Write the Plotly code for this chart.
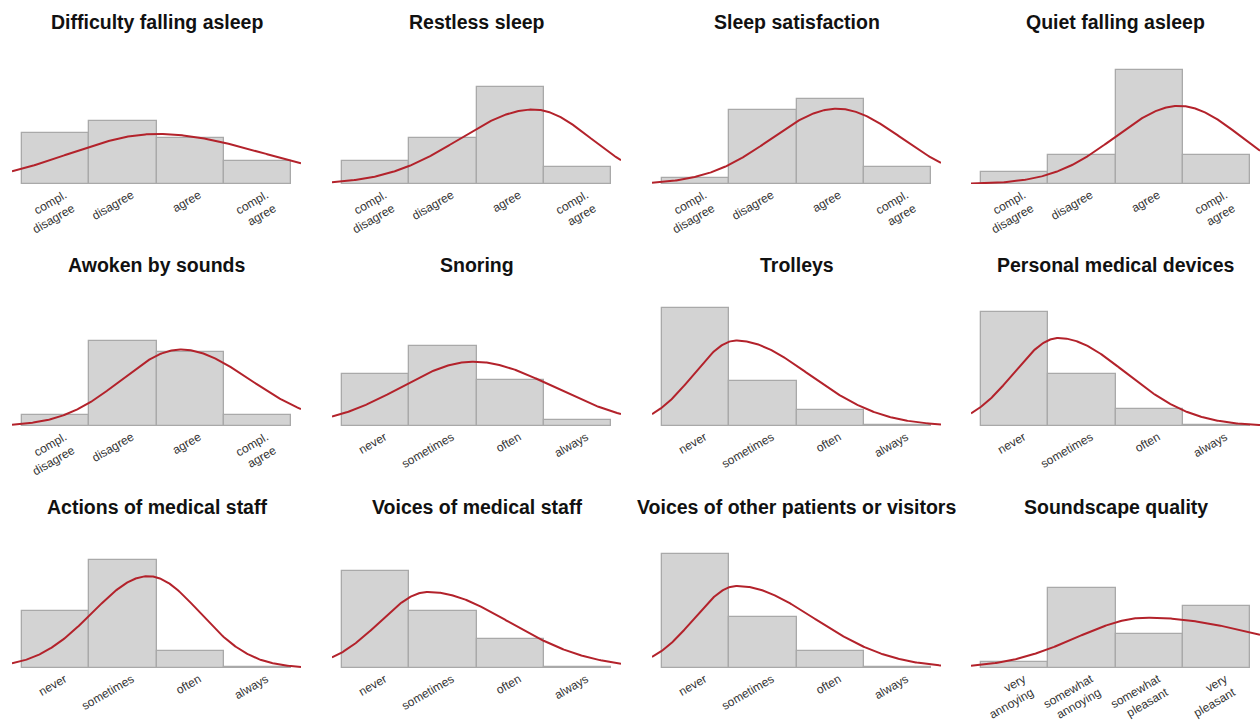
import numpy as np
import plotly.graph_objects as go

# Panel titles (row-major, 3 rows x 4 columns)
titles = [
    "Difficulty falling asleep", "Restless sleep", "Sleep satisfaction", "Quiet falling asleep",
    "Awoken by sounds", "Snoring", "Trolleys", "Personal medical devices",
    "Actions of medical staff", "Voices of medical staff",
    "Voices of other patients or visitors", "Soundscape quality",
]

# Answer scales
agree_labels = ["compl.<br>disagree", "disagree", "agree", "compl.<br>agree"]
freq_labels = ["never", "sometimes", "often", "always"]
quality_labels = ["very<br>annoying", "somewhat<br>annoying", "somewhat<br>pleasant", "very<br>pleasant"]

# Share of respondents per answer (%)
difficulty_falling_asleep = [28.0, 34.3, 25.0, 12.4]
restless_sleep = [12.7, 25.0, 52.8, 9.3]
sleep_satisfaction = [3.3, 40.4, 46.6, 9.3]
quiet_falling_asleep = [6.4, 15.8, 62.3, 15.8]
awoken_by_sounds = [5.8, 46.4, 40.4, 6.2]
snoring = [28.3, 43.7, 25.0, 3.1]
trolleys = [64.6, 24.4, 8.9, 0.4]
personal_medical_devices = [62.1, 28.3, 9.4, 0.4]
actions_of_medical_staff = [31.0, 59.2, 9.3, 0.4]
voices_of_medical_staff = [53.0, 31.3, 15.7, 0.4]
voices_of_other_patients = [62.5, 28.0, 9.1, 0.4]
soundscape_quality = [3.3, 43.7, 18.6, 34.0]

# Fitted density curves (two-piece normal, area = 100 %)
curve_mean = [2.50, 3.35, 3.10, 3.45, 2.86, 2.45, 1.60, 1.65, 2.38, 1.78, 1.61, 2.97]
curve_sd_left = [1.30, 1.10, 0.97, 0.95, 0.88, 1.07, 0.63, 0.66, 0.83, 0.72, 0.63, 1.05]
curve_sd_right = [1.62, 0.86, 0.97, 0.92, 1.03, 1.20, 1.08, 1.00, 0.76, 1.20, 1.15, 1.85]

panel_values = [
    difficulty_falling_asleep, restless_sleep, sleep_satisfaction, quiet_falling_asleep,
    awoken_by_sounds, snoring, trolleys, personal_medical_devices,
    actions_of_medical_staff, voices_of_medical_staff, voices_of_other_patients, soundscape_quality,
]
panel_labels = [
    agree_labels, agree_labels, agree_labels, agree_labels,
    agree_labels, freq_labels, freq_labels, freq_labels,
    freq_labels, freq_labels, freq_labels, quality_labels,
]

positions = [1, 2, 3, 4]
x_range = [0.35, 4.65]
y_max = 68.3

W, H = 1260, 725
col_left = [12, 332, 652, 971]
col_width = 289
row_base = [184, 426, 668]
plot_height = 125
title_y = [22, 265, 507]

BAR_FILL = "#d3d3d3"
BAR_EDGE = "#a9a9a9"
CURVE = "#b3222b"


def split_normal(x, mu, sl, sr):
    peak = 200.0 / (np.sqrt(2 * np.pi) * (sl + sr))
    s = np.where(x < mu, sl, sr)
    return peak * np.exp(-0.5 * ((x - mu) / s) ** 2)


grid = np.linspace(x_range[0], x_range[1], 300)

fig = go.Figure()
layout = {}
annotations = []

for i in range(12):
    r, c = divmod(i, 4)
    suffix = "" if i == 0 else str(i + 1)
    xa, ya = "x" + suffix, "y" + suffix

    fig.add_trace(go.Bar(
        x=positions, y=panel_values[i], width=1,
        marker=dict(color=BAR_FILL, line=dict(color=BAR_EDGE, width=1.3)),
        xaxis=xa, yaxis=ya, showlegend=False, hoverinfo="skip",
    ))
    fig.add_trace(go.Scatter(
        x=grid, y=split_normal(grid, curve_mean[i], curve_sd_left[i], curve_sd_right[i]),
        mode="lines", line=dict(color=CURVE, width=2),
        xaxis=xa, yaxis=ya, showlegend=False, hoverinfo="skip",
    ))

    x0 = col_left[c] / W
    x1 = min((col_left[c] + col_width) / W, 1.0)
    y0 = (H - row_base[r]) / H
    y1 = (H - row_base[r] + plot_height) / H

    layout["xaxis" + suffix] = dict(
        domain=[x0, x1], range=x_range, anchor=ya, automargin=False,
        tickmode="array", tickvals=positions, ticktext=panel_labels[i],
        tickangle=-30, ticks="", showgrid=False, zeroline=False, showline=False,
        ticklabelshift=9, ticklabelstandoff=1,
        tickfont=dict(family="Liberation Sans, Arial", size=12, color="#333333"),
        fixedrange=True,
    )
    layout["yaxis" + suffix] = dict(
        domain=[y0, y1], range=[0, y_max], anchor=xa, visible=False,
        automargin=False, fixedrange=True,
    )

    annotations.append(dict(
        text="<b>" + titles[i] + "</b>",
        xref="paper", yref="paper",
        x=(col_left[c] + 10 + 134.5) / W, y=1 - title_y[r] / H,
        xanchor="center", yanchor="middle", showarrow=False,
        font=dict(family="Liberation Sans, Arial", size=19.5, color="#111111"),
    ))

fig.update_layout(
    width=W, height=H,
    margin=dict(l=0, r=0, t=0, b=0, autoexpand=False),
    paper_bgcolor="white", plot_bgcolor="white",
    bargap=0, annotations=annotations,
    **layout,
)

fig.write_html("out.html")
